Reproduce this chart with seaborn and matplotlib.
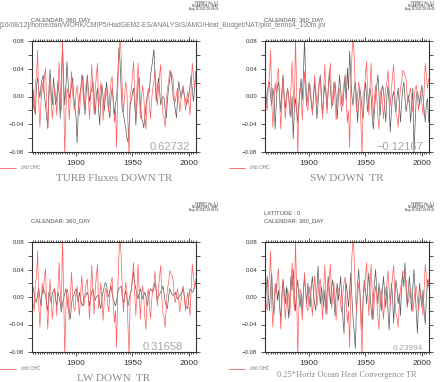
import matplotlib
matplotlib.use("Agg")
import matplotlib.pyplot as plt
from matplotlib.lines import Line2D
from matplotlib.ticker import MultipleLocator
import pandas as pd
import seaborn as sns

# ── DATA (annual values) ─────────────────────────────────────
years = list(range(1861, 2007))

ohc_rate = [
    0.004, -0.010, -0.020, 0.020, 0.030, 0.067, -0.010, -0.044, -0.010, 0.020,
    0.005, 0.030, 0.041, -0.010, -0.047, -0.005, 0.026, -0.005, -0.032, -0.010,
    0.012, 0.000, -0.027, 0.010, 0.050, 0.010, -0.020, 0.085, 0.010, -0.085,
    -0.020, 0.012, 0.005, -0.034, 0.000, 0.036, 0.005, -0.015, -0.020, 0.005,
    0.016, -0.005, -0.027, 0.000, 0.031, 0.010, -0.013, 0.005, 0.020, 0.026,
    -0.005, -0.032, 0.010, 0.046, 0.005, -0.025, 0.010, 0.030, 0.048, -0.017,
    0.000, 0.021, -0.005, -0.034, -0.005, 0.012, 0.010, -0.010, -0.022, 0.005,
    0.020, 0.029, -0.010, -0.037, -0.020, -0.073, 0.012, 0.060, 0.085, 0.060,
    0.010, -0.022, 0.000, 0.021, 0.010, -0.040, -0.085, 0.002, 0.010, 0.030,
    0.050, 0.005, -0.027, 0.010, 0.048, 0.005, -0.032, 0.000, 0.016, 0.000,
    -0.030, -0.047, 0.000, 0.012, -0.010, -0.032, -0.005, 0.012, 0.020, 0.038,
    0.010, -0.013, 0.010, 0.030, 0.046, 0.000, -0.025, -0.030, -0.044, -0.010,
    0.012, 0.020, 0.038, 0.035, 0.031, 0.025, 0.000, -0.008, 0.005, 0.012,
    -0.005, -0.022, -0.005, 0.010, 0.016, 0.000, -0.020, -0.005, 0.007, -0.010,
    -0.027, 0.010, 0.048, 0.030, 0.012, 0.026,
]

turb_down = [
    0.000, 0.010, -0.015, -0.026, 0.015, 0.027, 0.010, -0.002, 0.015, 0.025,
    0.031, 0.000, -0.012, -0.030, -0.045, 0.010, 0.039, 0.005, -0.012, 0.027,
    0.010, -0.012, 0.000, 0.022, 0.005, -0.031, 0.020, 0.075, 0.020, -0.012,
    0.015, 0.050, 0.020, -0.002, 0.005, 0.015, 0.027, 0.000, -0.017, -0.030,
    -0.067, -0.020, -0.002, 0.010, 0.020, 0.031, 0.000, -0.026, 0.005, 0.031,
    0.010, -0.007, 0.005, 0.010, 0.022, 0.000, -0.026, 0.000, 0.012, -0.020,
    -0.041, 0.000, 0.017, 0.000, -0.021, 0.000, 0.021, 0.005, -0.020, -0.031,
    0.000, 0.012, -0.005, -0.026, -0.010, -0.002, 0.030, 0.070, 0.050, 0.010,
    -0.021, -0.025, -0.036, -0.045, -0.060, -0.065, -0.040, -0.012, -0.005, 0.005,
    0.012, -0.010, -0.041, -0.010, 0.020, 0.027, -0.010, -0.031, -0.035, -0.045,
    -0.030, -0.012, 0.000, 0.005, 0.007, 0.030, 0.041, 0.055, 0.068, 0.030,
    -0.007, 0.010, 0.027, 0.010, -0.012, -0.005, 0.000, -0.002, -0.020, -0.031,
    -0.005, 0.012, 0.025, 0.036, 0.020, 0.000, -0.007, -0.020, -0.031, 0.000,
    0.022, 0.010, -0.002, 0.005, 0.012, 0.000, -0.005, -0.012, -0.005, 0.002,
    0.015, 0.031, 0.010, -0.007, 0.010, 0.036,
]

sw_down = [
    -0.032, -0.010, 0.007, 0.015, 0.021, 0.000, -0.013, 0.012, 0.000, -0.047,
    -0.010, 0.015, 0.021, 0.000, -0.022, 0.010, 0.031, 0.000, -0.017, 0.000,
    0.012, 0.000, -0.017, -0.030, 0.000, -0.061, -0.020, -0.003, -0.020, -0.037,
    -0.010, 0.010, 0.026, -0.005, 0.030, 0.082, 0.030, -0.013, 0.000, 0.021,
    0.005, -0.010, -0.022, 0.000, 0.021, 0.000, -0.032, -0.010, 0.020, 0.031,
    0.000, -0.027, 0.000, 0.016, 0.005, -0.017, 0.010, 0.036, 0.010, -0.010,
    -0.013, 0.010, 0.021, 0.000, -0.032, 0.000, 0.031, 0.010, -0.010, -0.013,
    0.010, 0.031, -0.005, 0.041, 0.010, 0.065, 0.030, 0.000, -0.013, 0.010,
    0.021, 0.000, -0.037, -0.010, 0.012, 0.000, -0.020, -0.032, 0.000, 0.021,
    0.000, -0.022, 0.000, 0.012, 0.000, -0.030, -0.047, -0.020, 0.002, 0.015,
    0.031, 0.005, -0.027, 0.000, 0.016, 0.010, -0.015, -0.037, 0.000, 0.016,
    -0.010, -0.051, -0.020, 0.000, 0.007, -0.010, -0.022, 0.000, 0.012, -0.010,
    -0.037, -0.010, 0.010, 0.021, 0.000, -0.022, -0.010, 0.002, -0.010, -0.037,
    -0.010, 0.012, -0.080, -0.040, 0.000, 0.007, 0.000, -0.013, 0.005, 0.016,
    0.000, -0.020, -0.037, -0.010, -0.003, -0.037,
]

lw_down = [
    0.007, 0.014, 0.004, -0.005, -0.008, 0.005, 0.012, 0.000, -0.013, 0.005,
    0.014, 0.008, 0.002, -0.010, -0.020, 0.007, 0.000, -0.008, 0.004, 0.010,
    0.012, -0.005, -0.013, 0.007, 0.000, -0.010, -0.022, -0.010, -0.003, 0.005,
    0.012, 0.000, -0.017, -0.025, -0.032, -0.010, 0.000, 0.002, 0.008, 0.012,
    0.000, -0.008, 0.007, -0.003, -0.010, -0.013, 0.000, 0.000, 0.004, 0.007,
    0.000, -0.013, 0.000, 0.007, 0.012, 0.000, -0.005, 0.000, 0.002, 0.002,
    -0.010, -0.017, 0.000, 0.007, 0.015, 0.021, 0.018, 0.005, 0.000, 0.010,
    0.016, 0.005, -0.003, -0.008, -0.013, -0.005, 0.007, 0.012, 0.014, 0.016,
    0.000, -0.008, 0.000, 0.009, 0.000, -0.013, -0.005, 0.004, 0.010, 0.025,
    0.036, 0.020, 0.012, 0.005, -0.003, 0.005, 0.012, 0.005, -0.003, 0.002,
    0.007, 0.000, -0.013, -0.005, 0.005, 0.012, 0.010, 0.007, 0.012, 0.021,
    0.010, -0.003, 0.000, 0.004, 0.007, 0.010, 0.016, 0.005, -0.008, -0.012,
    -0.017, 0.000, 0.012, 0.008, 0.004, 0.002, 0.004, 0.007, 0.000, -0.003,
    0.000, 0.002, 0.005, 0.008, 0.012, 0.000, -0.013, -0.015, -0.017, 0.000,
    0.012, 0.010, 0.007, 0.008, 0.015, 0.021,
]

conv_down = [
    -0.030, 0.010, 0.030, 0.000, -0.020, 0.015, 0.035, -0.010, -0.025, 0.010,
    0.020, -0.005, 0.010, -0.015, -0.033, 0.005, 0.025, 0.010, -0.010, 0.015,
    -0.005, -0.031, 0.000, 0.030, 0.010, 0.040, 0.000, -0.020, 0.010, 0.025,
    0.000, -0.015, 0.005, -0.025, 0.010, 0.030, 0.010, -0.010, 0.020, 0.000,
    -0.015, 0.015, 0.030, 0.005, -0.010, -0.020, 0.010, 0.045, 0.010, -0.010,
    0.015, 0.000, -0.015, 0.010, -0.025, 0.005, 0.030, 0.010, -0.010, 0.015,
    0.025, 0.000, -0.027, 0.005, 0.020, -0.005, 0.010, 0.030, 0.000, -0.030,
    -0.053, 0.000, 0.020, 0.005, -0.015, 0.010, 0.035, 0.000, -0.030, -0.050,
    -0.075, -0.020, 0.020, 0.040, 0.010, -0.020, -0.048, 0.000, 0.025, 0.010,
    -0.010, 0.015, 0.035, 0.005, -0.015, -0.033, 0.000, 0.020, 0.040, 0.010,
    -0.010, 0.020, 0.000, -0.020, 0.010, 0.030, 0.005, -0.015, 0.015, -0.020,
    -0.048, -0.010, 0.020, 0.000, -0.038, 0.000, 0.025, 0.010, -0.010, 0.005,
    -0.027, 0.010, 0.035, 0.015, 0.050, 0.010, -0.015, 0.010, 0.030, 0.000,
    -0.020, 0.015, 0.040, 0.010, -0.020, -0.053, -0.010, 0.020, 0.000, -0.015,
    0.010, -0.020, -0.040, 0.000, 0.025, 0.015,
]

panel_terms = [turb_down, sw_down, lw_down, conv_down]
panel_titles = ["TURB Fluxes DOWN TR", "SW DOWN  TR", "LW DOWN  TR",
                "0.25*Horiz Ocean Heat Convergence TR"]
panel_corrs = ["0.62732", "\u22120.12167", "0.31658", "0.23994"]
panel_headers = [["CALENDAR: 360_DAY"], ["CALENDAR: 360_DAY"],
                 ["CALENDAR: 360_DAY"], ["LATITUDE : 0", "CALENDAR: 360_DAY"]]
stamp_times = ["18:09:28", "18:09:40", "18:09:51", "18:09:41"]
legend_label = "d/dt OHC"
x_ticks = [1900, 1950, 2000]
y_ticks = [-0.08, -0.04, 0.00, 0.04, 0.08]
jnl_path = ("[16/08/12]/home/dan/WORK/CMIP5/HadGEM2-ES/ANALYSIS/AMO/"
            "Heat_Budget/NAT/plot_terms4_100m.jnl")

# ── STYLE ────────────────────────────────────────────────────
sns.set_style("ticks")
plt.rcParams["font.family"] = ["Liberation Sans", "DejaVu Sans"]
plt.rcParams["axes.unicode_minus"] = True

RED = "#ff5c5c"
BLK = "#5a5a5a"
W, H = 444, 382

def fx(px):
    return px / W

def fy(py):
    return 1 - py / H

fig = plt.figure(figsize=(W / 100, H / 100), dpi=100)

# pixel boxes: (left, top, right, bottom)
boxes = [(32, 41, 196, 152), (265, 41, 429, 152),
         (32, 242, 196, 352), (265, 242, 429, 352)]
offsets = [(0, 0), (229, 0), (0, 201), (229, 201)]

for i, (x0, y0, x1, y1) in enumerate(boxes):
    ax = fig.add_axes([fx(x0), fy(y1), (x1 - x0) / W, (y1 - y0) / H])
    df = pd.DataFrame({"year": years, "term": panel_terms[i], "ohc": ohc_rate})
    sns.lineplot(data=df, x="year", y="term", ax=ax, color=BLK, lw=0.5)
    sns.lineplot(data=df, x="year", y="ohc", ax=ax, color=RED, lw=0.5)

    ax.set_xlim(1861, 2006.3)
    ax.set_ylim(-0.08, 0.08)
    ax.set_xlabel("")
    ax.set_ylabel("")
    ax.set_xticks(x_ticks)
    ax.xaxis.set_minor_locator(MultipleLocator(2))
    ax.set_yticks(y_ticks)
    ax.set_yticklabels([f"{v:.2f}".replace("-", "\u2212") for v in y_ticks])
    ax.yaxis.set_minor_locator(MultipleLocator(0.02))
    ax.tick_params(which="both", direction="out", top=True, right=True,
                   color="#333333", width=0.6)
    ax.tick_params(which="major", length=3)
    ax.tick_params(which="minor", length=1.5)
    ax.tick_params(axis="y", which="minor", length=3)
    ax.tick_params(axis="x", labelsize=6, pad=2.5, labelcolor="#333333")
    ax.tick_params(axis="y", labelsize=4.3, pad=2.5, labelcolor="#333333")
    for sp in ax.spines.values():
        sp.set_linewidth(0.8)
        sp.set_color("#333333")

    fs = 6 if i == 3 else 8
    ax.text(1.0 - 6 / (x1 - x0) if i != 2 else 1.0 - 13 / (x1 - x0),
            2 / (y1 - y0), panel_corrs[i], transform=ax.transAxes,
            ha="right", va="baseline", fontsize=fs, color="#a6a6a6")

    ox, oy = offsets[i]
    # headers above the plot
    hdr = panel_headers[i]
    for k, line in enumerate(hdr):
        base = oy + 21 - 7 * (len(hdr) - 1 - k)
        fig.text(fx(x0 - 1), fy(base), line, fontsize=4.2, color="#505050",
                 va="baseline")
    # ferret stamp
    for k, line in enumerate(["FERRET Ver. 6.1", "NOAA/PMEL TMAP",
                              f"Aug 16 2012 {stamp_times[i]}"]):
        fig.text(fx(x1 + 22 if i % 2 == 0 else x1 + 5), fy(oy + 4 + 3 * k), line,
                 fontsize=2.2, color="#333333", ha="right", va="baseline")

    # legend sample
    ly = oy + 168
    fig.add_artist(Line2D([fx(ox), fx(ox + 16)], [fy(ly), fy(ly)],
                          color=RED, lw=0.6))
    fig.text(fx(ox + 21), fy(ly + 1.5), legend_label, fontsize=3.3,
             color="#777777", va="baseline")

    # panel title
    tb = oy + 181 if i < 2 else (381 if i == 2 else 377)
    fig.text(fx((x0 + x1) / 2), fy(tb), panel_titles[i], ha="center",
             va="baseline", fontsize=fs, color="#8a8a8a",
             family=["Liberation Serif", "DejaVu Serif"])

fig.text(fx(0), fy(27), jnl_path, fontsize=4.9, color="#7a7a7a",
         va="baseline")

fig.savefig("out.png", dpi=100)
